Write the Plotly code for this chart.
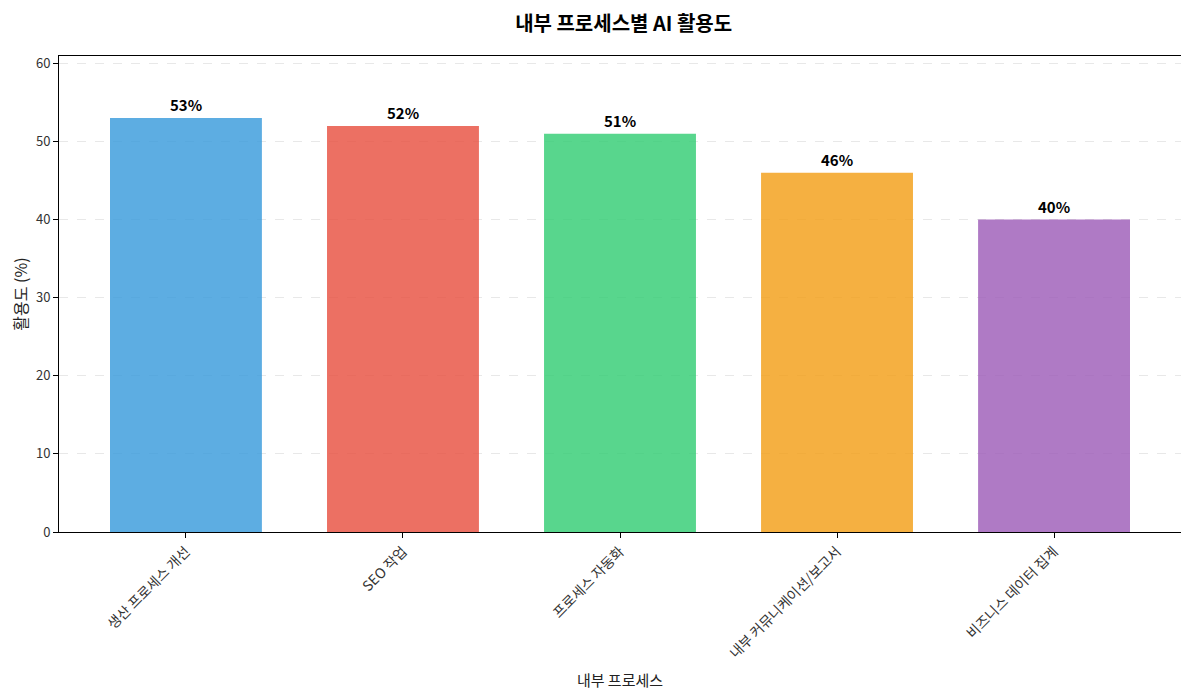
import plotly.graph_objects as go

categories = ["생산 프로세스 개선", "SEO 작업", "프로세스 자동화", "내부 커뮤니케이션/보고서", "비즈니스 데이터 집계"]
values = [53, 52, 51, 46, 40]
colors = ["#3498db", "#e74c3c", "#2ecc71", "#f39c12", "#9b59b6"]
labels = [f"{v}%" for v in values]

FONT = "Noto Sans CJK KR"

fig = go.Figure()
fig.add_trace(go.Bar(
    x=list(range(len(categories))),
    y=values,
    marker=dict(color=colors, opacity=0.8, line=dict(width=0)),
    width=0.7,
    hoverinfo="skip",
))

for i, (v, t) in enumerate(zip(values, labels)):
    fig.add_annotation(x=i, y=v, text=f"<b>{t}</b>", showarrow=False,
                       yanchor="bottom", yshift=1,
                       font=dict(family=FONT, size=15, color="black"))

fig.update_layout(
    width=1181, height=682,
    margin=dict(l=51, r=8, t=48, b=158, autoexpand=False),
    paper_bgcolor="white", plot_bgcolor="white",
    showlegend=False,
    font=dict(family=FONT, size=13, color="#333"),
    title=dict(text="<b>내부 프로세스별 AI 활용도</b>", x=0.5213, xanchor="center",
               y=0.976, yanchor="middle",
               font=dict(family=FONT, size=20, color="black")),
)
fig.update_xaxes(
    range=[-0.585, 4.585], automargin=False,
    tickmode="array", tickvals=list(range(len(categories))), ticktext=categories,
    tickangle=-45, ticks="outside", ticklen=5, tickcolor="black",
    showline=True, linecolor="black", linewidth=1, mirror=True,
    showgrid=False, zeroline=False,
    tickfont=dict(family=FONT, size=14, color="#333"),
    title=dict(text="내부 프로세스", font=dict(family=FONT, size=15, color="#222"), standoff=15),
)
fig.update_yaxes(
    range=[0, 60.95], automargin=False,
    tickmode="array", tickvals=[0, 10, 20, 30, 40, 50, 60],
    ticks="outside", ticklen=5, tickcolor="black",
    showline=True, linecolor="black", linewidth=1, mirror=True,
    showgrid=True, gridcolor="rgba(180,180,180,0.3)", griddash="dash", gridwidth=1,
    zeroline=False,
    tickfont=dict(family=FONT, size=13, color="#333"),
    title=dict(text="활용도 (%)", font=dict(family=FONT, size=16, color="#222"), standoff=8),
)

fig.write_html("out.html")
